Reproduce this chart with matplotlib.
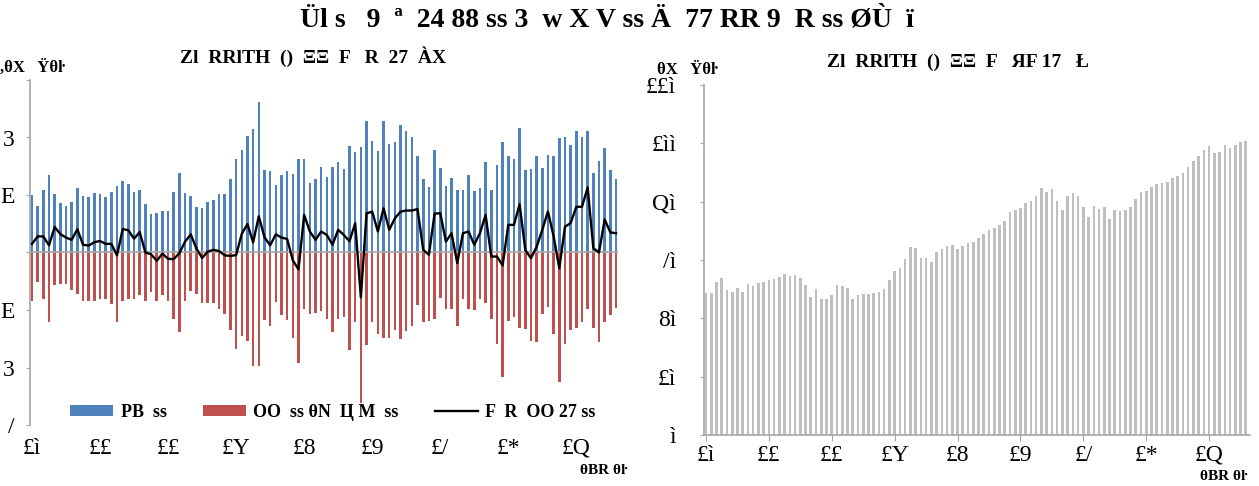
import matplotlib
matplotlib.use("Agg")
import matplotlib.pyplot as plt
from matplotlib.patches import Patch
from matplotlib.lines import Line2D
import numpy as np

# ---------------- data ----------------
exports = [2.0, 1.6, 2.16, 2.68, 2.03, 1.72, 1.62, 1.74, 2.26, 1.97, 1.92, 2.06,
           2.02, 1.92, 2.1, 2.33, 2.5, 2.39, 2.1, 2.19, 1.68, 1.33, 1.39, 1.44,
           1.46, 2.09, 2.76, 2.06, 1.96, 1.59, 1.55, 1.77, 1.83, 2.02, 2.04, 2.57,
           3.25, 3.57, 4.06, 4.29, 5.22, 2.88, 2.82, 2.35, 2.7, 2.82, 2.72, 3.26,
           3.26, 2.41, 2.56, 2.97, 2.64, 2.97, 3.14, 2.9, 3.72, 3.49, 3.66, 4.59,
           3.87, 3.54, 4.56, 3.77, 3.85, 4.45, 4.21, 4.01, 3.36, 2.55, 2.28, 3.58,
           2.94, 2.32, 2.6, 2.16, 2.18, 2.69, 2.14, 2.26, 3.15, 2.17, 3.04, 3.86,
           3.34, 3.25, 4.32, 2.88, 2.91, 3.34, 2.93, 3.39, 3.37, 3.97, 4.03, 3.74,
           4.21, 4.0, 4.21, 2.78, 3.17, 3.64, 2.88, 2.57]
imports = [-1.70, -1.04, -1.6, -2.43, -1.14, -1.08, -1.1, -1.3, -1.45, -1.70, -1.68, -1.70,
           -1.62, -1.62, -1.80, -2.43, -1.68, -1.62, -1.62, -1.48, -1.68, -1.39, -1.68, -1.48,
           -1.68, -2.32, -2.78, -1.68, -1.33, -1.45, -1.74, -1.74, -1.74, -1.97, -2.14, -2.69,
           -3.34, -2.92, -3.07, -3.94, -3.96, -2.35, -2.57, -1.72, -2.18, -2.35, -2.99, -3.85,
           -1.95, -2.14, -2.1, -2.03, -2.3, -2.76, -2.32, -2.26, -3.4, -2.43, -5.22, -3.22,
           -2.43, -2.84, -2.99, -2.99, -2.69, -3.01, -2.72, -2.55, -1.82, -2.43, -2.38, -2.3,
           -1.57, -1.95, -1.95, -2.55, -1.6, -1.97, -2.0, -1.62, -1.77, -2.32, -3.17, -4.32,
           -2.38, -2.26, -2.64, -2.67, -3.07, -3.13, -2.14, -1.91, -2.82, -4.52, -3.19, -2.69,
           -2.64, -2.41, -1.95, -2.64, -3.13, -2.43, -2.18, -1.94]
balance = [0.30, 0.56, 0.56, 0.25, 0.89, 0.64, 0.52, 0.44, 0.81, 0.27, 0.24, 0.36,
           0.40, 0.30, 0.30, -0.10, 0.82, 0.77, 0.48, 0.71, 0.00, -0.06, -0.29, -0.04,
           -0.22, -0.23, -0.02, 0.38, 0.63, 0.14, -0.19, 0.03, 0.09, 0.05, -0.10, -0.12,
           -0.09, 0.65, 0.99, 0.35, 1.26, 0.53, 0.25, 0.63, 0.52, 0.47, -0.27, -0.59,
           1.31, 0.73, 0.44, 0.73, 0.61, 0.27, 0.79, 0.61, 0.39, 1.02, -1.56, 1.36,
           1.42, 0.73, 1.54, 0.79, 1.19, 1.42, 1.46, 1.46, 1.51, 0.09, -0.08, 1.35,
           1.37, 0.38, 0.67, -0.37, 0.67, 0.73, 0.27, 0.67, 1.31, -0.14, -0.14, -0.45,
           0.96, 0.96, 1.68, 0.09, -0.2, 0.2, 0.79, 1.43, 0.56, -0.55, 0.9, 1.02,
           1.59, 1.59, 2.26, 0.15, 0.0, 1.15, 0.70, 0.67]
reserves = [48.6, 48.6, 52.3, 53.7, 49.7, 48.9, 50.3, 49.1, 51.7, 51.1, 52.2, 52.6,
            53.1, 53.6, 54.2, 55.1, 54.5, 54.7, 53.7, 51.4, 47.4, 49.9, 46.8, 46.7,
            48.0, 51.3, 51.1, 50.3, 46.7, 47.9, 48.2, 48.2, 48.6, 48.9, 50.2, 53.0,
            56.4, 57.2, 60.3, 64.3, 64.1, 60.6, 60.6, 59.3, 62.7, 63.9, 64.7, 65.2,
            63.6, 64.7, 65.8, 66.3, 67.4, 68.9, 70.2, 71.1, 71.9, 73.3, 76.3, 77.2,
            77.8, 79.5, 80.3, 82.1, 84.8, 83.4, 84.4, 80.2, 77.2, 82.1, 82.8, 81.9,
            78.3, 74.6, 78.6, 77.4, 78.3, 74.2, 77.1, 76.9, 77.0, 78.2, 81.0, 83.2,
            83.7, 85.1, 86.2, 86.3, 86.9, 88.0, 88.7, 89.8, 92.0, 94.1, 95.6, 97.7,
            99.0, 96.8, 97.1, 99.3, 98.4, 99.3, 100.6, 100.9]

x_tick_labels = ["£ì", "££", "££", "£Y", "£8", "£9", "£/", "£*", "£Q"]
left_y_ticks = [-6, -4, -2, 0, 2, 4, 6]
left_y_labels = ["/", "3", "E", "", "E", "3", ""]
right_y_ticks = [0, 20, 40, 60, 80, 100, 120]
right_y_labels = ["ì", "£ì", "8ì", "/ì", "Qì", "£ìì", "££ì"]

main_title = "Ül s   9  ª  24 88 ss 3  w X V ss Ä  77 RR 9  R ss ØÙ  ï"
left_title = "Zl  RRlTH  ()  ΞΞ  F   R  27  ÀX"
right_title = "Zl  RRlTH  ()  ΞΞ  F   ЯF 17   Ł"
unit_left = ",θX   Ÿθŀ"
unit_right = "θX   Ÿθŀ"
legend_labels = ["PB  ss", "OO  ss θN  Ц M  ss", "F  R  OO 27 ss"]
corner_label = "θBR θŀ"

# ---------------- style ----------------
FONT = ["Liberation Serif", "DejaVu Serif", "DejaVu Sans"]
plt.rcParams["font.family"] = FONT
BLUE = "#4F81BD"
RED = "#C0504D"
GRAYBAR = "#BFBFBF"
AXGRAY = "#A6A6A6"

W, H = 1259, 486
fig = plt.figure(figsize=(W / 100, H / 100), dpi=100)


def fx(px):
    return px / W


def fy(py):
    return 1 - py / H


n = len(exports)
idx = np.arange(n)
tick_pos = np.arange(0, 12 * len(x_tick_labels), 12)

# ---------------- left panel ----------------
ax1 = fig.add_axes([fx(30), fy(425), fx(618) - fx(30), fy(80) - fy(425)])
ax1.bar(idx, exports, width=0.45, color=BLUE, zorder=2)
ax1.bar(idx, imports, width=0.45, color=RED, zorder=2)
ax1.axhline(0, color=AXGRAY, lw=1.2, zorder=3)
ax1.plot(idx, balance, color="black", lw=1.7, zorder=4)
ax1.set_xlim(-0.35, n - 1 + 0.35)
ax1.set_ylim(-6, 6)
for s in ["top", "right", "bottom"]:
    ax1.spines[s].set_visible(False)
ax1.spines["left"].set_color(AXGRAY)
ax1.spines["left"].set_linewidth(1.2)
ax1.set_yticks(left_y_ticks)
ax1.set_yticklabels(left_y_labels, fontsize=17)
ax1.tick_params(axis="y", direction="out", length=3, color=AXGRAY, pad=8)
ax1.set_xticks(tick_pos)
ax1.set_xticklabels(x_tick_labels, fontsize=17)
ax1.tick_params(axis="x", length=0, pad=9)

handles = [Patch(facecolor=BLUE, edgecolor="none"),
           Patch(facecolor=RED, edgecolor="none"),
           Line2D([0], [0], color="black", lw=1.7)]
leg = ax1.legend(handles, legend_labels, loc="lower center", ncol=3,
                 frameon=False, bbox_to_anchor=(0.515, -0.035),
                 handlelength=2.4, handleheight=0.55, handletextpad=0.4,
                 columnspacing=2.0,
                 prop={"family": FONT, "size": 13, "weight": "bold"})

# ---------------- right panel ----------------
ax2 = fig.add_axes([fx(704), fy(435), fx(1250) - fx(704), fy(85) - fy(435)])
ax2.bar(idx, reserves, width=0.5, color=GRAYBAR, zorder=2)
ax2.set_xlim(-0.38, n - 1 + 0.8)
ax2.set_ylim(0, 120)
for s in ["top", "right"]:
    ax2.spines[s].set_visible(False)
for s in ["left", "bottom"]:
    ax2.spines[s].set_color(AXGRAY)
    ax2.spines[s].set_linewidth(1.2)
ax2.set_yticks(right_y_ticks)
ax2.set_yticklabels(right_y_labels, fontsize=17)
ax2.tick_params(axis="y", direction="out", length=3, color=AXGRAY, pad=17)
ax2.set_xticks(tick_pos)
ax2.set_xticklabels(x_tick_labels, fontsize=17)
ax2.tick_params(axis="x", direction="out", length=4, color=AXGRAY, pad=3)

# ---------------- texts ----------------
fig.text(fx(607), fy(20), main_title, ha="center", va="center",
         fontsize=20, fontweight="bold")
fig.text(fx(313), fy(57), left_title, ha="center", va="center",
         fontsize=14, fontweight="bold")
fig.text(fx(958), fy(62), right_title, ha="center", va="center",
         fontsize=14, fontweight="bold")
fig.text(fx(0), fy(68), unit_left, ha="left", va="center", fontsize=12,
         fontweight="bold")
fig.text(fx(657), fy(70), unit_right, ha="left", va="center", fontsize=12,
         fontweight="bold")
fig.text(fx(580), fy(470), corner_label, ha="left", va="center", fontsize=11,
         fontweight="bold")
fig.text(fx(1200), fy(476), corner_label, ha="left", va="center", fontsize=11,
         fontweight="bold")

fig.savefig("out.png", dpi=100)
